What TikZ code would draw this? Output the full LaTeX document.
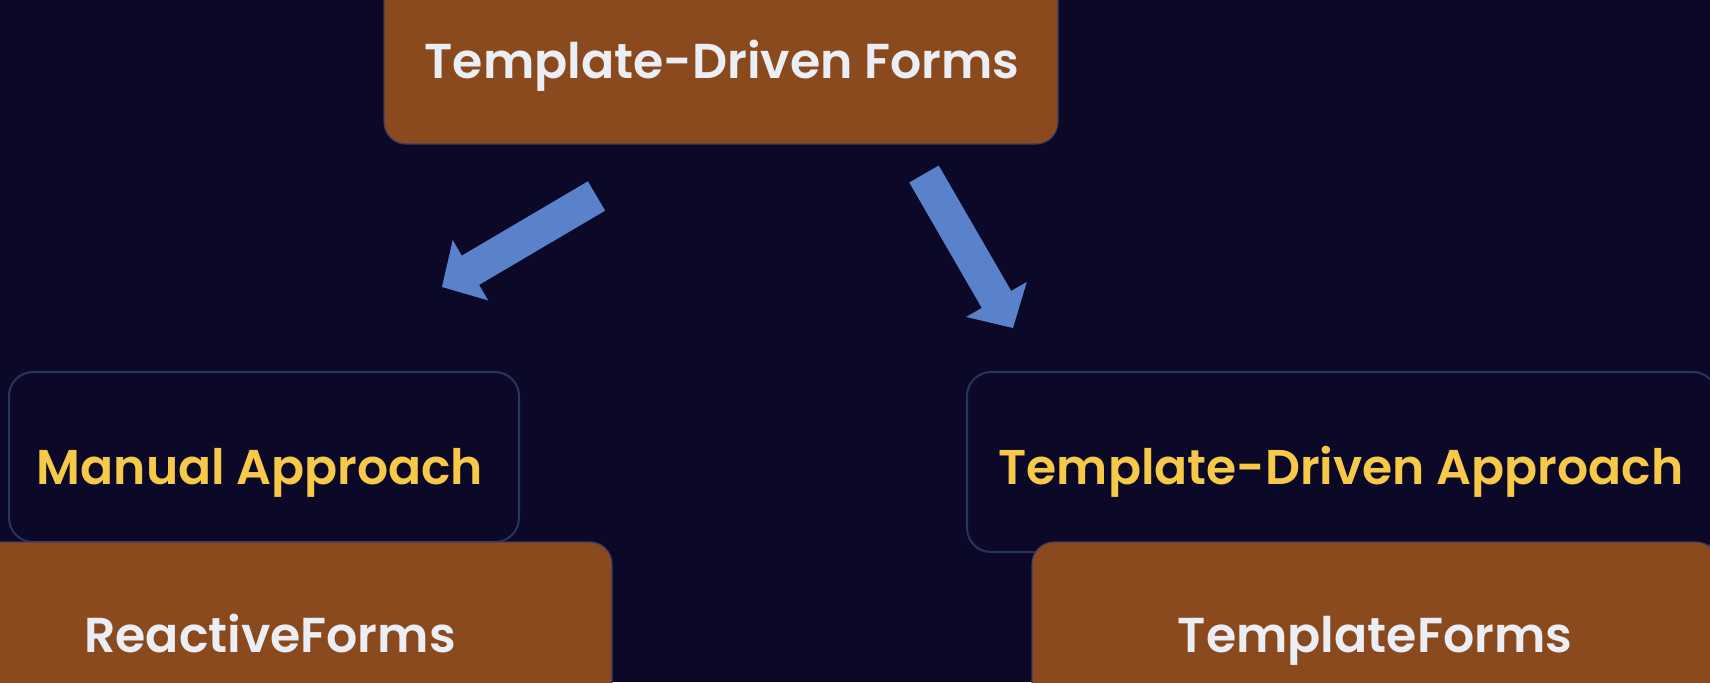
\documentclass[tikz,border=0pt]{standalone}
\usepackage{fontspec}
\setmainfont{Poppins}[BoldFont={Poppins SemiBold}]
\usetikzlibrary{calc}
\definecolor{bgc}{HTML}{0B0828}
\definecolor{brownc}{HTML}{8A4A1E}
\definecolor{brownedge}{HTML}{3E3A62}
\definecolor{yellowc}{HTML}{F7C948}
\definecolor{whitec}{HTML}{ECEEF6}
\definecolor{arrowc}{HTML}{5A82CA}
\definecolor{outlinec}{HTML}{27365F}
\newcommand\blockarrowdraw[2]{%
  \coordinate (neck) at ($(#2)!16.5pt!(#1)$);
  \fill[arrowc]
    ($(#1)!8.5pt!90:(#2)$) -- ($(neck)!8.5pt!-90:(#1)$) -- ($(neck)!17.5pt!-90:(#1)$) --
    (#2) --
    ($(neck)!17.5pt!90:(#1)$) -- ($(neck)!8.5pt!90:(#1)$) -- ($(#1)!8.5pt!-90:(#2)$) -- cycle;}
\begin{document}
\begin{tikzpicture}[x=0.5pt,y=-0.5pt,
  brownbox/.style={fill=brownc, draw=brownedge, line width=0.6pt, rounded corners=11pt, inner sep=0pt},
  outlinebox/.style={draw=outlinec, line width=1pt, rounded corners=12pt, inner sep=0pt},
  toptext/.style={anchor=base, inner sep=0pt, text=whitec, font=\bfseries\fontsize{24.5}{30}\selectfont},
  bottomtext/.style={anchor=base, inner sep=0pt, text=whitec, font=\bfseries\fontsize{24.5}{30}\selectfont},
  approachtext/.style={anchor=base, inner sep=0pt, text=yellowc, font=\bfseries\fontsize{24.4}{30}\selectfont}]
\fill[bgc] (0,0) rectangle (1710,682);
\useasboundingbox (0,0) rectangle (1710,682);
% boxes
\node[brownbox, minimum width=337pt, minimum height=87pt] (top) at (721,57) {};
\node[outlinebox, minimum width=255pt, minimum height=85pt] (manual) at (264,457) {};
\node[outlinebox, minimum width=375pt, minimum height=90pt] (tda) at (1342,462) {};
\node[brownbox, minimum width=342pt, minimum height=95pt] (reactive) at (270,637) {};
\node[brownbox, minimum width=343pt, minimum height=95pt] (tforms) at (1375,637) {};
% texts
\node[toptext] (toplabel) at (722,78.5) {Template-Driven Forms};
\node[approachtext] (manuallabel) at (260,484) {Manual Approach};
\node[approachtext] (tdalabel) at (1341,484) {Template-Driven Approach};
\node[bottomtext] (reactivelabel) at (270,652) {ReactiveForms};
\node[bottomtext] (tformslabel) at (1375,652) {TemplateForms};
% arrows
\coordinate (la) at (596.5,196);
\coordinate (lb) at (442,287);
\coordinate (ra) at (924,174);
\coordinate (rb) at (1013,328);
\blockarrowdraw{la}{lb}
\blockarrowdraw{ra}{rb}
\end{tikzpicture}
\end{document}
